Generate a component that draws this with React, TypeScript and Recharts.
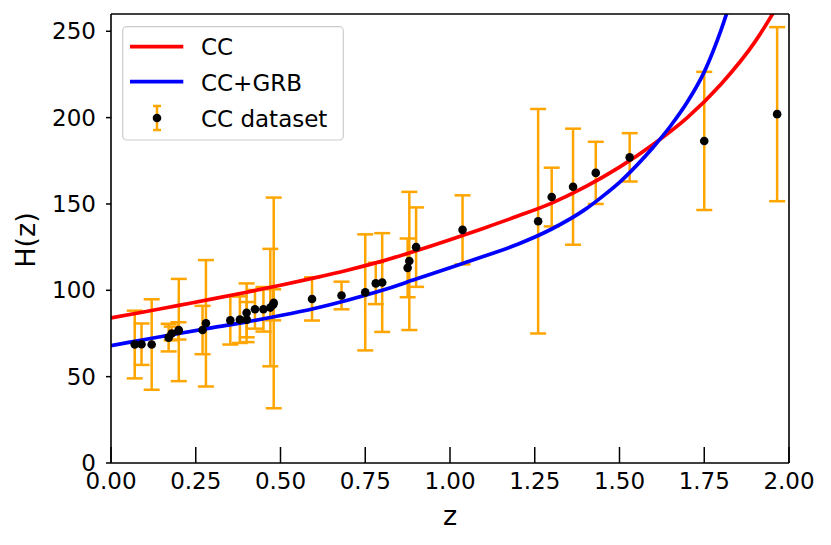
import React from 'react';
import { ComposedChart, Line, Scatter, ErrorBar, XAxis, YAxis, ReferenceLine } from 'recharts';

// CC dataset
const ccZ = [0.07, 0.09, 0.12, 0.17, 0.179, 0.199, 0.2, 0.27, 0.28, 0.352, 0.3802, 0.4, 0.4004, 0.4247, 0.4497, 0.47, 0.4783, 0.48, 0.593, 0.68, 0.75, 0.781, 0.8, 0.875, 0.88, 0.9, 1.037, 1.26, 1.3, 1.363, 1.43, 1.53, 1.75, 1.965];
const ccH = [68.6, 68.8, 68.6, 72.6, 75, 76.5, 77, 77, 80.9, 82.6, 83, 87, 83, 89, 89, 90, 91.6, 92.7, 95, 97, 98.8, 104, 104.5, 113, 117, 125, 135, 140, 154, 160, 168, 177, 186.5, 202];
const ccErr = [19.6, 12, 26.2, 8, 4, 5, 29.6, 14, 36.6, 14, 13.5, 17, 10.2, 11.2, 12.9, 34, 9, 61, 12.5, 8, 33.6, 12, 28.6, 17, 40, 23, 20, 65, 17, 33.6, 18, 14, 40, 50.4];

// CC fit curve (red)
const redZ = [0, 0.1, 0.2, 0.3, 0.4, 0.5, 0.6, 0.7, 0.8, 0.9, 1.0, 1.1, 1.2, 1.3, 1.4, 1.5, 1.6, 1.7, 1.8, 1.9, 1.95, 2.0];
const redH = [84, 87.6, 91.3, 95, 98.9, 102.9, 107.2, 111.8, 116.9, 122.9, 129.3, 136, 143, 150.5, 160, 171.3, 184.6, 200, 219.5, 244, 259.5, 277];

// CC+GRB fit curve (blue)
const blueZ = [0, 0.1, 0.2, 0.3, 0.4, 0.5, 0.6, 0.7, 0.8, 0.9, 1.0, 1.1, 1.2, 1.3, 1.4, 1.45, 1.5, 1.55, 1.6, 1.65, 1.7, 1.75, 1.8, 1.84];
const blueH = [68, 71.5, 75, 78.4, 81.7, 85.4, 89.5, 94.4, 100, 106.5, 113, 119.7, 126.7, 135.5, 147, 154.4, 162.5, 172.2, 183, 195, 209, 226.5, 251, 275];

const xTicks = [0, 0.25, 0.5, 0.75, 1, 1.25, 1.5, 1.75, 2];
const yTicks = [0, 50, 100, 150, 200, 250];

const ccData = ccZ.map((z, i) => ({ z, H: ccH[i], err: ccErr[i] }));
const redData = redZ.map((z, i) => ({ z, H: redH[i] }));
const blueData = blueZ.map((z, i) => ({ z, H: blueH[i] }));

const FONT = '"DejaVu Sans", sans-serif';

const XTick = (props: any) => {
  const { x, y, payload } = props;
  return (
    <g>
      <line x1={x} x2={x} y1={y} y2={y - 16} stroke="#000" strokeWidth={1.5} />
      <text x={x} y={y + 26} textAnchor="middle" fontSize={23} fontFamily={FONT} fill="#000">
        {Number(payload.value).toFixed(2)}
      </text>
    </g>
  );
};

const Dot = (p: any) => <circle cx={p.cx} cy={p.cy} r={4.3} fill="#000" />;

export default function App() {
  return (
    <div style={{ position: 'absolute', left: 0, top: 0, width: 831, height: 545, background: '#fff' }}>
      <ComposedChart width={831} height={545} margin={{ top: 14, right: 42, bottom: 0, left: 0 }}>
        <XAxis
          dataKey="z"
          type="number"
          domain={[0, 2]}
          ticks={xTicks}
          allowDataOverflow
          height={82}
          tickSize={0}
          tickMargin={0}
          tickLine={false}
          axisLine={{ stroke: '#000', strokeWidth: 1.6 }}
          tick={<XTick />}
          label={() => (
            <text x={450} y={525} textAnchor="middle" fontSize={27} fontFamily={FONT} fill="#000">z</text>
          )}
        />
        <YAxis
          dataKey="H"
          type="number"
          domain={[0, 260]}
          ticks={yTicks}
          allowDataOverflow
          width={111}
          tickSize={5}
          tickMargin={10}
          tickLine={{ stroke: '#000', strokeWidth: 1.5 }}
          axisLine={{ stroke: '#000', strokeWidth: 1.6 }}
          tick={{ fill: '#000', fontSize: 23, fontFamily: FONT }}
          label={() => (
            <text x={34.5} y={240} transform="rotate(-90 34.5 240)" textAnchor="middle" fontSize={27} fontFamily={FONT} fill="#000">H(z)</text>
          )}
        />
        <Scatter data={ccData} dataKey="H" shape={<Dot />} isAnimationActive={false}>
          <ErrorBar dataKey="err" direction="y" width={8} stroke="#FFA500" strokeWidth={2.5} />
        </Scatter>
        <Line data={redData} dataKey="H" type="monotone" stroke="#FF0000" strokeWidth={3.7} dot={false} activeDot={false} isAnimationActive={false} />
        <Line data={blueData} dataKey="H" type="monotone" stroke="#0000FF" strokeWidth={3.7} dot={false} activeDot={false} isAnimationActive={false} />
        <ReferenceLine y={260} stroke="#000" strokeWidth={1.6} ifOverflow="visible" />
        <ReferenceLine x={2} stroke="#000" strokeWidth={1.6} ifOverflow="visible" />
      </ComposedChart>
      <svg width={831} height={545} style={{ position: 'absolute', left: 0, top: 0, pointerEvents: 'none' }}>
        <rect x={122.7} y={26.7} width={220.6} height={113.3} rx={4} ry={4} fill="#fff" fillOpacity={0.8} stroke="#cccccc" strokeWidth={1.2} />
        <line x1={130} x2={183.3} y1={46.7} y2={46.7} stroke="#FF0000" strokeWidth={3.7} />
        <line x1={130} x2={183.3} y1={81.7} y2={81.7} stroke="#0000FF" strokeWidth={3.7} />
        <line x1={157} x2={157} y1={106} y2={130} stroke="#FFA500" strokeWidth={2.5} />
        <line x1={153} x2={161} y1={106} y2={106} stroke="#FFA500" strokeWidth={2.5} />
        <line x1={153} x2={161} y1={130} y2={130} stroke="#FFA500" strokeWidth={2.5} />
        <circle cx={157} cy={118} r={4.3} fill="#000" />
        <text x={201} y={55} fontSize={23} fontFamily={FONT} fill="#000">CC</text>
        <text x={201} y={90.7} fontSize={23} fontFamily={FONT} fill="#000">CC+GRB</text>
        <text x={201} y={126.7} fontSize={23} fontFamily={FONT} fill="#000">CC dataset</text>
      </svg>
    </div>
  );
}
